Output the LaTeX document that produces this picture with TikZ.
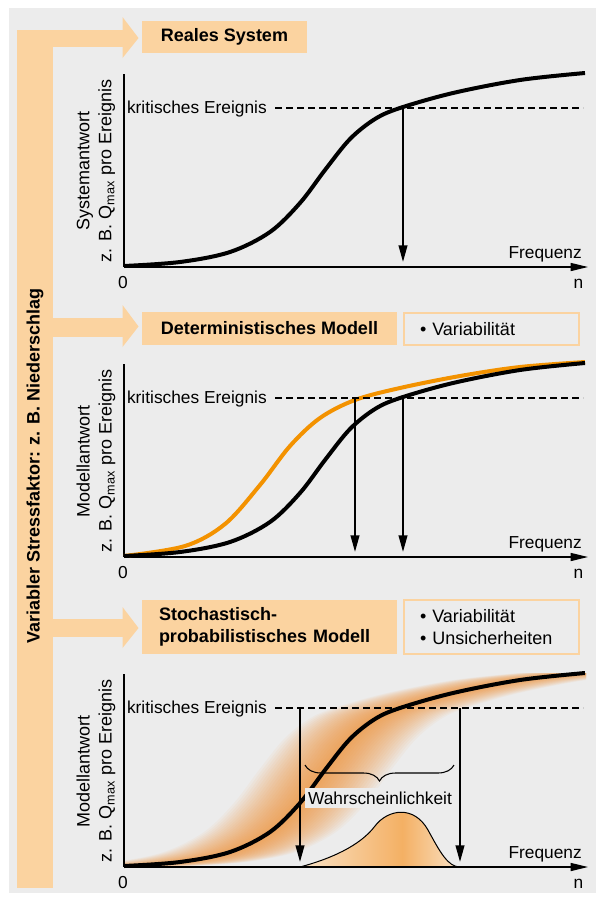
\documentclass[tikz,border=0pt]{standalone}
\usepackage{fontspec}
\setmainfont{Liberation Sans}
\usetikzlibrary{arrows.meta,decorations.pathreplacing}
\definecolor{bg}{HTML}{ECECEC}
\definecolor{peach}{HTML}{FBD3A0}
\definecolor{orng}{HTML}{F39200}
\definecolor{bandc}{HTML}{F08C28}
\definecolor{distlo}{HTML}{F9E2C6}
\definecolor{disthi}{HTML}{F4B064}
\pgfdeclarehorizontalshading{distshade}{100bp}{color(0bp)=(distlo); color(25bp)=(distlo); color(57bp)=(disthi); color(75bp)=(distlo); color(100bp)=(distlo)}
\begin{document}
\begin{tikzpicture}[x=0.75pt,y=-0.75pt,
  txt/.style={font=\fontsize{13}{15.6}\selectfont, inner sep=0pt},
  ylab/.style={font=\fontsize{13.5}{16.5}\selectfont, inner sep=0pt, align=center, rotate=90},
  titlebox/.style={fill=peach, inner sep=0pt, font=\fontsize{13.5}{16.5}\selectfont\bfseries},
  listbox/.style={draw=peach, line width=1.5pt, inner ysep=0pt, font=\fontsize{13.5}{16.5}\selectfont, align=left},
  curve/.style={line width=3pt},
  axisline/.style={line width=1pt},
  xaxis/.style={line width=1pt, -{Triangle[length=13pt,width=6pt]}},
  drop/.style={line width=1.5pt, -{Triangle[length=12.5pt,width=6.5pt]}},
  crit/.style={line width=1.5pt, dash pattern=on 5.25pt off 3pt}]
\useasboundingbox (0,0) rectangle (596,900);
\fill[white] (0,0) rectangle (596,900);
\fill[bg] (9,8) rectangle (596,893);

% L-shaped stress bar with arms
\fill[peach] (17,30) rectangle (53,888);
\fill[peach] (17,30) rectangle (123,47);
\fill[peach] (122.5,17) -- (138.5,38) -- (122.5,58) -- cycle;
\fill[peach] (53,318) rectangle (123,337);
\fill[peach] (122.5,305) -- (138.5,326.5) -- (122.5,347) -- cycle;
\fill[peach] (53,619) rectangle (123,637);
\fill[peach] (122.5,607) -- (138.5,628) -- (122.5,648) -- cycle;
\node[font=\fontsize{13.5}{16}\selectfont\bfseries, rotate=90, inner sep=0pt] (stress) at (35,466) {Variabler Stressfaktor: z. B. Niederschlag};

% title boxes
\node[titlebox, minimum width=123.75pt, minimum height=24pt] (reales) at (224.5,37) {Reales System};
\node[titlebox, minimum width=191.25pt, minimum height=24.4pt] (determ) at (269.5,328.5) {Deterministisches Modell};
\node[titlebox, minimum width=191.25pt, minimum height=40.5pt, text width=165.75pt, align=left, inner xsep=12.75pt] (stoch) at (269.5,627) {Stochastisch-\\probabilistisches Modell};
\node[listbox, minimum width=131.25pt, minimum height=24pt, text width=107.25pt, inner xsep=12pt] (var2) at (491.5,329) {• Variabilität};
\node[listbox, minimum width=131.25pt, minimum height=40pt, text width=107.25pt, inner xsep=12pt] (var3) at (491.5,627) {• Variabilität\\• Unsicherheiten};

% ---------- panel 1 ----------
\coordinate (p1o) at (124,267); \coordinate (p1top) at (124,74); \coordinate (p1end) at (588,267);
\draw[axisline] (p1top) -- (p1o);
\draw[xaxis] (p1o) -- (p1end);
\node[txt, anchor=base] (p1zero) at (123,288) {0};
\node[txt, anchor=base] (p1n) at (578.5,288) {n};
\node[txt, anchor=base east] (p1freq) at (582,258) {Frequenz};
\node[txt, anchor=base east] (p1crit) at (267,113) {kritisches Ereignis};
\node[ylab] (p1ylab) at (96,171) {Systemantwort\\z. B. Q\textsubscript{max} pro Ereignis};
\draw[curve] plot[smooth,tension=0.55] coordinates {(124,266) (180,262) (230,252) (270,232) (300,203) (325,170) (350,139) (375,119) (400,108) (453,93) (520,80) (585,73)};
\coordinate (p1ds) at (275,108); \coordinate (p1de) at (583,108);
\draw[crit] (p1ds) -- (p1de);
\coordinate (p1as) at (403,108); \coordinate (p1ae) at (403,262);
\draw[drop] (p1as) -- (p1ae);

% ---------- panel 2 ----------
\coordinate (p2o) at (124,557); \coordinate (p2top) at (124,364); \coordinate (p2end) at (588,557);
\draw[axisline] (p2top) -- (p2o);
\draw[xaxis] (p2o) -- (p2end);
\node[txt, anchor=base] (p2zero) at (123,578) {0};
\node[txt, anchor=base] (p2n) at (578.5,578) {n};
\node[txt, anchor=base east] (p2freq) at (582,548) {Frequenz};
\node[txt, anchor=base east] (p2crit) at (267,403) {kritisches Ereignis};
\node[ylab] (p2ylab) at (96,461) {Modellantwort\\z. B. Q\textsubscript{max} pro Ereignis};
\draw[curve, orng] plot[smooth,tension=0.55] coordinates {(124,556) (185,546) (225,524) (260,485) (290,446) (320,418) (355,400) (400,388) (460,376) (520,367) (585,362)};
\draw[curve] plot[smooth,tension=0.55] coordinates {(124,556) (180,552) (230,542) (270,522) (300,493) (325,460) (350,429) (375,409) (400,398) (453,383) (520,370) (585,363)};
\coordinate (p2ds) at (275,398); \coordinate (p2de) at (583,398);
\draw[crit] (p2ds) -- (p2de);
\coordinate (p2as) at (355,398); \coordinate (p2ae) at (355,552);
\coordinate (p2bs) at (403,398); \coordinate (p2be) at (403,552);
\draw[drop] (p2as) -- (p2ae);
\draw[drop] (p2bs) -- (p2be);

% ---------- panel 3 ----------
\begin{scope}
\clip (124,655) rectangle (586,866);
\foreach \s in {3,6,...,66} {
  \fill[bandc, fill opacity=0.052] plot[smooth,tension=0.55] coordinates {(124-\s,866) (180-\s,862) (230-\s,852) (270-\s,832) (300-\s,803) (325-\s,770) (350-\s,739) (375-\s,719) (400-\s,708) (453-\s,693) (520-\s,680) (585-\s,673)}
  -- plot[smooth,tension=0.55] coordinates {(585+\s,673) (520+\s,680) (453+\s,693) (400+\s,708) (375+\s,719) (350+\s,739) (325+\s,770) (300+\s,803) (270+\s,832) (230+\s,852) (180+\s,862) (124+\s,866)} -- cycle;
}
\end{scope}
\coordinate (p3o) at (124,867); \coordinate (p3top) at (124,674); \coordinate (p3end) at (588,867);
\fill[shading=distshade] (300,867) .. controls (330,859) and (360,846) .. (375,826) .. controls (388,809) and (414,805) .. (428,830) .. controls (440,852) and (448,867) .. (460,867) -- cycle;
\draw[line width=0.75pt] (300,867) .. controls (330,859) and (360,846) .. (375,826) .. controls (388,809) and (414,805) .. (428,830) .. controls (440,852) and (448,867) .. (460,867);
\draw[axisline] (p3top) -- (p3o);
\draw[xaxis] (p3o) -- (p3end);
\node[txt, anchor=base] (p3zero) at (123,888) {0};
\node[txt, anchor=base] (p3n) at (578.5,888) {n};
\node[txt, anchor=base east] (p3freq) at (582,858) {Frequenz};
\node[txt, anchor=base east] (p3crit) at (267,713) {kritisches Ereignis};
\node[ylab] (p3ylab) at (96,771) {Modellantwort\\z. B. Q\textsubscript{max} pro Ereignis};
\draw[curve] plot[smooth,tension=0.55] coordinates {(124,866) (180,862) (230,852) (270,832) (300,803) (325,770) (350,739) (375,719) (400,708) (453,693) (520,680) (585,673)};
\coordinate (p3ds) at (275,708); \coordinate (p3de) at (583,708);
\draw[crit] (p3ds) -- (p3de);
\coordinate (brl) at (305,765); \coordinate (brr) at (454,765);
\draw[line width=0.8pt, decorate, decoration={brace, mirror, amplitude=12pt}] (brl) -- (brr);
\node[txt, fill=bg, inner xsep=2pt, inner ysep=3pt] (prob) at (380,798) {Wahrscheinlichkeit};
\coordinate (p3as) at (300,708); \coordinate (p3ae) at (300,862);
\coordinate (p3bs) at (460,708); \coordinate (p3be) at (460,862);
\draw[drop] (p3as) -- (p3ae);
\draw[drop] (p3bs) -- (p3be);
\end{tikzpicture}
\end{document}
